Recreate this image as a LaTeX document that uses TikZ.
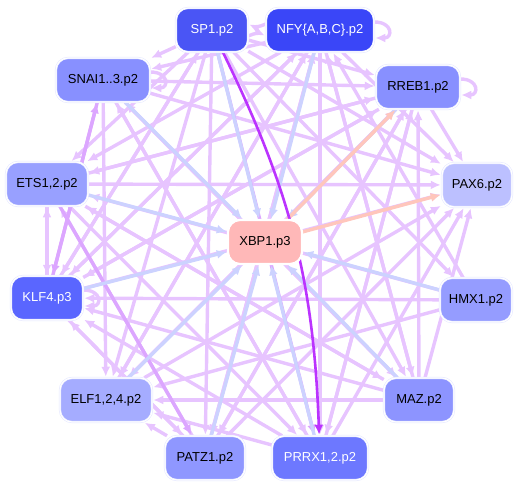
\documentclass[tikz,border=0pt]{standalone}
\usepackage{fontspec}
\setmainfont{Liberation Sans}
\usetikzlibrary{arrows.meta,backgrounds}

\definecolor{cSP}{HTML}{4A55F5}
\definecolor{cNFY}{HTML}{3A46F8}
\definecolor{cRREB}{HTML}{8890FF}
\definecolor{cPAX}{HTML}{BCC0FF}
\definecolor{cHMX}{HTML}{959CFF}
\definecolor{cMAZ}{HTML}{8D94FF}
\definecolor{cPRRX}{HTML}{6D78FF}
\definecolor{cPATZ}{HTML}{8F97FF}
\definecolor{cELF}{HTML}{A5ACFF}
\definecolor{cKLF}{HTML}{5A66FF}
\definecolor{cETS}{HTML}{98A0FF}
\definecolor{cSNAI}{HTML}{8890FF}
\definecolor{cXBP}{HTML}{FFB8B8}
\definecolor{lilac}{HTML}{E7C4FF}
\definecolor{lilacmid}{HTML}{DCA6FF}
\definecolor{bluish}{HTML}{CCD2FF}
\definecolor{salmon}{HTML}{FFC6BC}
\definecolor{violet}{HTML}{BB33FF}
\definecolor{rim}{HTML}{E2E5FF}

\tikzset{
  gene/.style={rectangle, rounded corners=12pt, minimum height=44pt,
    draw=rim, double=white, double distance=1.2pt, line width=0.5pt,
    font=\fontsize{13}{15}\selectfont, inner sep=2pt},
  lt/.style={gene, text=black},
  dk/.style={gene, text=white},
  link/.style={-{Latex[length=10pt,width=9pt]}, line width=3.4pt, lilac, shorten >=1pt},
}

\begin{document}
\begin{tikzpicture}[x=1pt, y=-1pt]
  \useasboundingbox (0,0) rectangle (521,489);

  % gene nodes
  \node[dk, fill=cSP, minimum width=72pt] (sp) at (212,30) {SP1.p2};
  \node[dk, fill=cNFY, minimum width=108pt] (nfy) at (320,30) {NFY\{A,B,C\}.p2};
  \node[lt, fill=cRREB, minimum width=84pt] (rreb) at (418,87) {RREB1.p2};
  \node[lt, fill=cPAX, minimum width=70pt] (pax) at (477,185) {PAX6.p2};
  \node[lt, fill=cHMX, minimum width=72pt] (hmx) at (476,300) {HMX1.p2};
  \node[lt, fill=cMAZ, minimum width=70pt] (maz) at (419,400) {MAZ.p2};
  \node[dk, fill=cPRRX, minimum width=96pt] (prrx) at (320,458) {PRRX1,2.p2};
  \node[lt, fill=cPATZ, minimum width=80pt] (patz) at (205,458) {PATZ1.p2};
  \node[lt, fill=cELF, minimum width=92pt] (elf) at (106,400) {ELF1,2,4.p2};
  \node[dk, fill=cKLF, minimum width=72pt] (klf) at (47,298) {KLF4.p3};
  \node[lt, fill=cETS, minimum width=82pt] (ets) at (47,184) {ETS1,2.p2};
  \node[lt, fill=cSNAI, minimum width=94pt] (snai) at (103,80) {SNAI1..3.p2};
  \node[lt, fill=cXBP, draw=white, minimum width=74pt] (xbp) at (265,242) {XBP1.p3};

  \begin{scope}[on background layer]
    % regulatory links between outer genes
    \foreach \a/\b in {sp/snai, sp/ets, sp/klf, sp/elf, sp/patz, sp/rreb, sp/pax,
        sp/maz, sp/hmx, nfy/snai, nfy/ets, nfy/klf, nfy/elf, nfy/patz, nfy/prrx,
        nfy/pax, nfy/maz, rreb/pax, rreb/elf, rreb/patz, rreb/prrx, rreb/klf,
        rreb/ets, snai/rreb, snai/pax, snai/maz, snai/prrx, snai/elf, ets/rreb,
        ets/pax, ets/maz, ets/prrx, ets/klf, klf/ets, klf/rreb, klf/pax, klf/nfy,
        klf/sp, klf/patz, elf/rreb, elf/pax, elf/nfy, patz/rreb, patz/nfy,
        patz/ets, patz/klf, patz/elf, patz/pax, prrx/rreb, prrx/elf, prrx/snai,
        prrx/klf, prrx/pax, maz/elf, maz/rreb, maz/nfy, maz/klf, maz/ets,
        maz/snai, maz/pax, hmx/elf, hmx/klf, hmx/nfy, hmx/ets}
      \draw[link] (\a) -- (\b);
    \foreach \a/\b in {klf/snai, ets/patz, snai/klf, sp/prrx}
      \draw[link, lilacmid] (\a) -- (\b);
    \draw[link] ([yshift=-6pt]sp.east) to[bend left=25] ([yshift=-6pt]nfy.west);
    \draw[link] ([yshift=6pt]nfy.west) to[bend left=25] ([yshift=6pt]sp.east);
    % self loops
    \draw[link] ([yshift=8pt]nfy.east) to[out=0, in=0, looseness=3] ([yshift=-8pt]nfy.east);
    \draw[link] ([yshift=8pt]rreb.east) to[out=0, in=0, looseness=3] ([yshift=-8pt]rreb.east);
    \draw[link] ([yshift=8pt]klf.east) to[out=0, in=0, looseness=3] ([yshift=-8pt]klf.east);
    \draw[link] ([yshift=8pt]snai.east) to[out=0, in=0, looseness=3] ([yshift=-8pt]snai.east);
    % links into the centre
    \foreach \a in {sp, nfy, rreb, hmx, maz, prrx, patz, elf, klf, ets, snai}
      \draw[link, bluish] (\a) -- (xbp);
    \draw[link, salmon] (xbp) -- (pax);
    \draw[link, salmon] (xbp) -- (rreb);
    \draw[link, violet, line width=2.6pt] (sp) to[bend left=12] (prrx);
  \end{scope}
\end{tikzpicture}
\end{document}
